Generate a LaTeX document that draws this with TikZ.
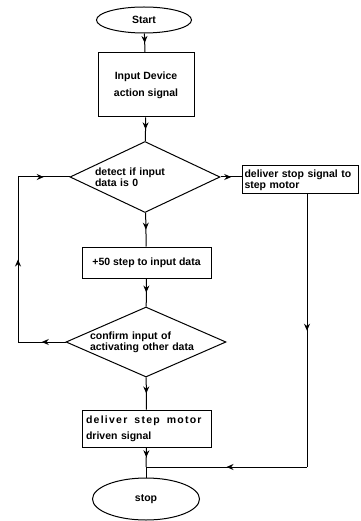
\documentclass[tikz,border=0pt]{standalone}
\usepackage{fontspec}
\setmainfont{Liberation Sans}
\usepackage{tikz}
\usetikzlibrary{arrows.meta,shapes.geometric,decorations.markings}

\begin{document}
\begin{tikzpicture}[x=1pt, y=-1pt, >=Stealth,
    every node/.style={font=\fontsize{10.5}{11}\selectfont\bfseries},
    every path/.style={line width=1pt},
    term/.style={draw, ellipse, inner sep=0pt},
    proc/.style={draw, rectangle, inner sep=3pt},
    test/.style={draw, diamond, inner sep=0pt, align=left},
    flow/.style={decoration={markings, mark=at position 0.5 with {\arrow{Stealth[length=7pt,width=6pt]}}},
                 postaction={decorate}}]

\useasboundingbox (0,0) rectangle (360,521);

% Bloques
\node[term, minimum width=95pt, minimum height=26pt] (start) at (144,20) {Start};
\node[proc, minimum width=96pt, minimum height=64pt, align=center] (inp) at (146,85)
    {Input Device\\[6pt]action signal};
\node[test, text width=100pt, minimum width=150pt, minimum height=71pt, shape aspect=2.11] (dia1) at (145,177)
    {detect if input\\data is 0};
\node[proc, text width=112pt, minimum height=28pt, inner sep=2pt, align=left] (rbox) at (300.5,180)
    {deliver stop signal to\\step motor};
\node[proc, minimum width=129pt, minimum height=31pt] (add) at (146.5,262.5)
    {+50 step to input data};
\node[test, text width=112pt, minimum width=160pt, minimum height=70pt, shape aspect=2.29] (dia2) at (146,342)
    {confirm input of\\activating other data};
\node[proc, text width=121pt, minimum width=129pt, minimum height=37pt, align=left] (drive) at (146.5,428.5)
    {{\addfontfeature{LetterSpace=12}deliver\hspace{7pt}step\hspace{7pt}motor}\\[5pt]driven signal};
\node[term, minimum width=107pt, minimum height=42pt] (stop) at (146,499) {stop};

% Puntos de giro
\coordinate (lbot) at (18,342);
\coordinate (ltop) at (18,177);
\coordinate (rturn) at (307,467);
\coordinate (join) at (146,467);

% Flechas
\draw[flow] (start) -- (inp);
\draw[flow] (inp) -- (dia1);
\draw[flow] (dia1.east) -- (rbox.west |- dia1.east);
\draw[flow] (dia1) -- (add);
\draw[flow] (add) -- (dia2);
\draw[flow] (dia2) -- (drive);
\draw[flow] (drive.south) -- (join);
\draw (join) -- (stop.north);

% Lazo izquierdo
\draw[flow] (dia2.west) -- (lbot);
\draw[flow] (lbot) -- (ltop);
\draw[flow] (ltop) -- (dia1.west);

% Rama derecha
\draw[flow] (rbox.south -| rturn) -- (rturn);
\draw[flow] (rturn) -- (join);

\end{tikzpicture}
\end{document}
